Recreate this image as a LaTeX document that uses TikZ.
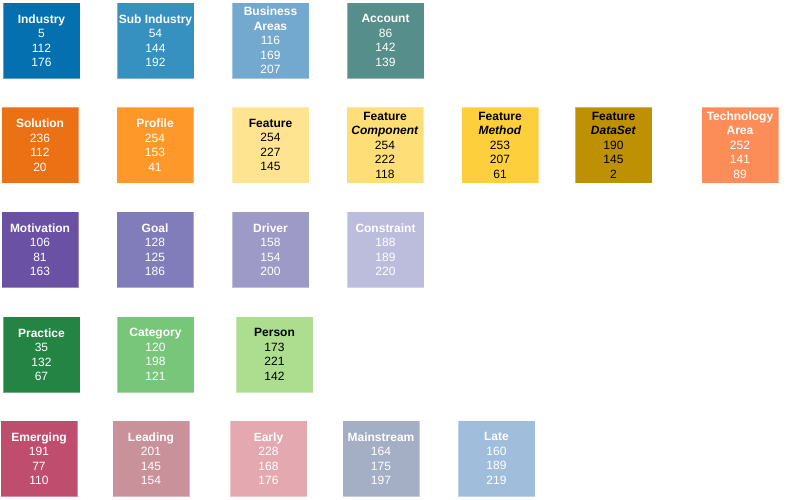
\documentclass[tikz,border=0pt]{standalone}
\usepackage{fontspec}
\setmainfont{Liberation Sans}
\definecolor{cIndustry}{RGB}{5,112,176}
\definecolor{cSubIndustry}{RGB}{54,144,192}
\definecolor{cBusiness}{RGB}{116,169,207}
\definecolor{cAccount}{RGB}{86,142,139}
\definecolor{cSolution}{RGB}{236,112,20}
\definecolor{cProfile}{RGB}{254,153,41}
\definecolor{cFeature}{RGB}{254,227,145}
\definecolor{cComponent}{RGB}{254,222,118}
\definecolor{cMethod}{RGB}{253,207,61}
\definecolor{cDataSet}{RGB}{190,145,2}
\definecolor{cTech}{RGB}{252,141,89}
\definecolor{cMotivation}{RGB}{106,81,163}
\definecolor{cGoal}{RGB}{128,125,186}
\definecolor{cDriver}{RGB}{158,154,200}
\definecolor{cConstraint}{RGB}{188,189,220}
\definecolor{cPractice}{RGB}{35,132,67}
\definecolor{cCategory}{RGB}{120,198,121}
\definecolor{cPerson}{RGB}{173,221,142}
\definecolor{cEmerging}{RGB}{191,77,110}
\definecolor{cLeading}{RGB}{201,145,154}
\definecolor{cEarly}{RGB}{228,168,176}
\definecolor{cMainstream}{RGB}{164,175,197}
\definecolor{cLate}{RGB}{160,189,219}
\begin{document}
\begin{tikzpicture}[x=1pt,y=-1pt,
  sw/.style={draw=white, draw opacity=0.35, line width=1pt, inner sep=0pt,
    align=center, font=\fontsize{12}{14.5}\selectfont,
    minimum width=77pt, minimum height=76pt, text=white},
  dk/.style={text=black}]
\useasboundingbox (0,0) rectangle (788,499);
% row 1
\node[sw, fill=cIndustry] (industry) at (41.5,40.5) {\textbf{Industry}\\5\\112\\176};
\node[sw, fill=cSubIndustry] (subindustry) at (155.5,40.5) {\textbf{Sub Industry}\\54\\144\\192};
\node[sw, fill=cBusiness] (business) at (270.5,40.5) {\textbf{Business}\\\textbf{Areas}\\116\\169\\207};
\node[sw, fill=cAccount] (account) at (385.5,40.5) {\textbf{Account}\\86\\142\\139};
% row 2
\node[sw, fill=cSolution] (solution) at (40,145) {\textbf{Solution}\\236\\112\\20};
\node[sw, fill=cProfile] (profile) at (155,145) {\textbf{Profile}\\254\\153\\41};
\node[sw, dk, fill=cFeature] (feature) at (270.5,145) {\textbf{Feature}\\254\\227\\145};
\node[sw, dk, fill=cComponent] (component) at (385,145) {\textbf{Feature}\\\textbf{\textit{Component}}\\254\\222\\118};
\node[sw, dk, fill=cMethod] (method) at (500,145) {\textbf{Feature}\\\textbf{\textit{Method}}\\253\\207\\61};
\node[sw, dk, fill=cDataSet] (dataset) at (613.5,145) {\textbf{Feature}\\\textbf{\textit{DataSet}}\\190\\145\\2};
\node[sw, fill=cTech] (tech) at (740,145) {\textbf{Technology}\\\textbf{Area}\\252\\141\\89};
% row 3
\node[sw, fill=cMotivation] (motivation) at (40,249.5) {\textbf{Motivation}\\106\\81\\163};
\node[sw, fill=cGoal] (goal) at (155,249.5) {\textbf{Goal}\\128\\125\\186};
\node[sw, fill=cDriver] (driver) at (270.5,249.5) {\textbf{Driver}\\158\\154\\200};
\node[sw, fill=cConstraint] (constraint) at (385.5,249.5) {\textbf{Constraint}\\188\\189\\220};
% row 4
\node[sw, fill=cPractice] (practice) at (41.5,354.5) {\textbf{Practice}\\35\\132\\67};
\node[sw, fill=cCategory] (category) at (155.5,354.5) {\textbf{Category}\\120\\198\\121};
\node[sw, dk, fill=cPerson] (person) at (274.5,354.5) {\textbf{Person}\\173\\221\\142};
% row 5
\node[sw, fill=cEmerging] (emerging) at (39,458.5) {\textbf{Emerging}\\191\\77\\110};
\node[sw, fill=cLeading] (leading) at (151,458.5) {\textbf{Leading}\\201\\145\\154};
\node[sw, fill=cEarly] (early) at (268.5,458.5) {\textbf{Early}\\228\\168\\176};
\node[sw, fill=cMainstream] (mainstream) at (381,458.5) {\textbf{Mainstream}\\164\\175\\197};
\node[sw, fill=cLate] (late) at (496.5,458.5) {\textbf{Late}\\160\\189\\219};
\end{tikzpicture}
\end{document}
